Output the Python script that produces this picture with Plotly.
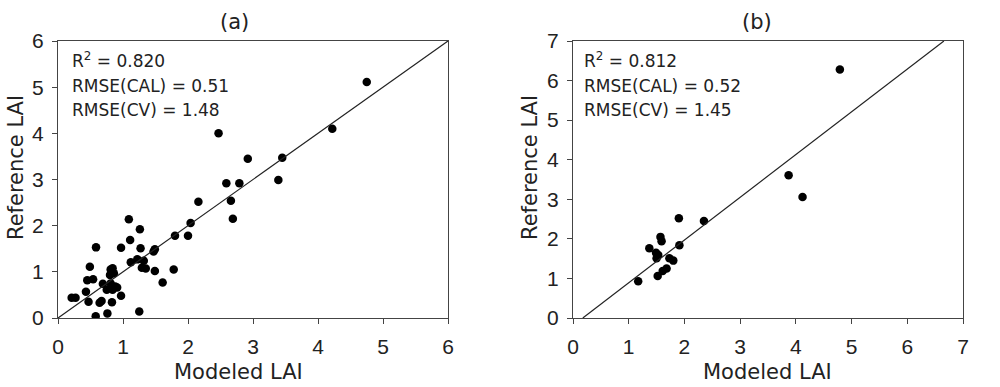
import plotly.graph_objects as go

# Panel (a) data
a_model = [4.75, 4.22, 2.47, 2.92, 3.45, 3.39, 2.59, 2.79, 2.16, 2.66, 2.69, 2.04, 1.80, 2.00,
           1.09, 1.26, 1.11, 1.78, 1.61,
           0.585, 0.97, 1.27, 1.49, 1.47, 0.49, 1.12, 1.22, 1.32, 1.29, 1.35, 1.49, 0.81, 0.86,
           0.80, 0.45, 0.54, 0.69, 0.81, 0.88, 0.75, 0.84, 0.91, 0.43, 0.97, 0.21, 0.27, 0.47,
           0.64, 0.67, 0.83, 0.58, 0.76, 1.25, 0.84]
a_ref = [5.11, 4.10, 4.00, 3.45, 3.47, 2.99, 2.92, 2.92, 2.52, 2.54, 2.15, 2.06, 1.78, 1.78,
         2.14, 1.92, 1.69, 1.05, 0.77,
         1.53, 1.52, 1.51, 1.49, 1.44, 1.11, 1.21, 1.27, 1.24, 1.09, 1.07, 1.02, 1.05, 0.97,
         0.93, 0.82, 0.84, 0.74, 0.75, 0.68, 0.61, 0.61, 0.66, 0.57, 0.48, 0.44, 0.44, 0.35,
         0.33, 0.37, 0.34, 0.04, 0.10, 0.14, 1.08]

# Panel (b) data
b_model = [4.79, 3.87, 4.12, 1.90, 2.35, 1.57, 1.59, 1.37, 1.91, 1.49, 1.53, 1.50, 1.73, 1.80,
           1.68, 1.61, 1.52, 1.17]
b_ref = [6.28, 3.61, 3.06, 2.52, 2.45, 2.05, 1.94, 1.76, 1.84, 1.65, 1.59, 1.51, 1.51, 1.45,
         1.25, 1.19, 1.06, 0.93]

# Fitted lines: slope, intercept
a_line_x = [0, 6]
a_slope, a_icpt = 1.0, 0.0
b_slope, b_icpt = 1.08, -0.19
b_line_y = [0, 7]

a_stats = ["R<sup>2</sup> = 0.820", "RMSE(CAL) = 0.51", "RMSE(CV) = 1.48"]
b_stats = ["R<sup>2</sup> = 0.812", "RMSE(CAL) = 0.52", "RMSE(CV) = 1.45"]

a_ticks = [0, 1, 2, 3, 4, 5, 6]
b_ticks = [0, 1, 2, 3, 4, 5, 6, 7]

W, H = 1000, 387
X0, X1, Y0, Y1 = 58, 963, 41, 318  # plot area in page pixels
ML, MT = X0, Y0
MR, MB = W - X1, H - Y1
PW, PH = X1 - X0, Y1 - Y0


def px(x):
    return (x - X0) / PW


def py(y):
    return (Y1 - y) / PH


fig = go.Figure()
mk = dict(color="black", size=8.5)
fig.add_trace(go.Scatter(x=a_model, y=a_ref, mode="markers", marker=mk, xaxis="x", yaxis="y", showlegend=False))
fig.add_trace(go.Scatter(x=a_line_x, y=[a_slope * v + a_icpt for v in a_line_x], mode="lines",
                         line=dict(color="#222", width=1.2), xaxis="x", yaxis="y", showlegend=False))
fig.add_trace(go.Scatter(x=b_model, y=b_ref, mode="markers", marker=mk, xaxis="x2", yaxis="y2", showlegend=False))
fig.add_trace(go.Scatter(x=[(v - b_icpt) / b_slope for v in b_line_y], y=b_line_y, mode="lines",
                         line=dict(color="#222", width=1.2), xaxis="x2", yaxis="y2", showlegend=False))

tickfont = dict(family="Liberation Sans, Arial", size=21, color="#222")


def ax(rng, ticks, standoff, domain=None, anchor=None):
    d = dict(range=rng, tickvals=ticks, showgrid=False, zeroline=False, showline=True,
             linecolor="#444", linewidth=1.2, mirror=True, ticks="outside", ticklen=5,
             tickcolor="#444", tickfont=tickfont, automargin=False, ticklabelstandoff=standoff)
    if domain is not None:
        d["domain"] = domain
    if anchor is not None:
        d["anchor"] = anchor
    return d


fig.update_layout(
    width=W, height=H,
    paper_bgcolor="white", plot_bgcolor="white",
    margin=dict(l=ML, r=MR, t=MT, b=MB),
    xaxis=ax([0, 6], a_ticks, 5, domain=[0, px(448)], anchor="y"),
    yaxis=ax([0, 6], a_ticks, 4, anchor="x"),
    xaxis2=ax([0, 7], b_ticks, 5, domain=[px(573), 1], anchor="y2"),
    yaxis2=ax([0, 7], b_ticks, 4, anchor="x2"),
)

titlefont = dict(family="DejaVu Sans", size=21, color="#222")
annfont = dict(family="DejaVu Sans", size=17, color="#222")

# Panel titles, axis titles
for cx, label in ((234, "(a)"), (757, "(b)")):
    fig.add_annotation(x=px(cx), y=py(22), xref="paper", yref="paper", text=label, showarrow=False,
                       xanchor="center", yanchor="middle", font=titlefont)
for cx in (238, 767):
    fig.add_annotation(x=px(cx), y=py(372), xref="paper", yref="paper", text="Modeled LAI",
                       showarrow=False, xanchor="center", yanchor="middle", font=titlefont)
for cx in (16, 530):
    fig.add_annotation(x=px(cx), y=py(168), xref="paper", yref="paper", text="Reference LAI",
                       showarrow=False, textangle=-90, xanchor="center", yanchor="middle", font=titlefont)

# Statistics text
for lx, stats in ((70, a_stats), (582, b_stats)):
    for cy, s in zip((60, 86, 110), stats):
        fig.add_annotation(x=px(lx), y=py(cy), xref="paper", yref="paper", text=s, showarrow=False,
                           xanchor="left", yanchor="middle", font=annfont)

# remove the default page margin so the figure sits at the window's top-left corner
fig.write_html("out.html", config={"displayModeBar": False},
               post_script="document.body.style.margin='0';")
